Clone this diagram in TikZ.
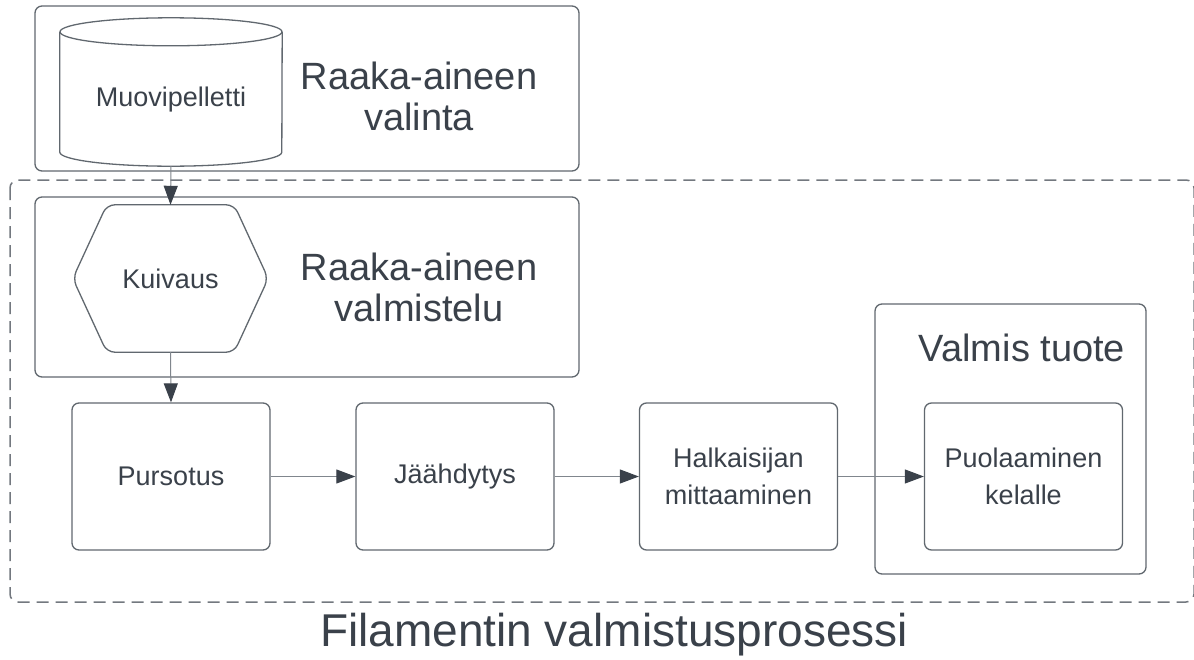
\documentclass[tikz,border=0pt]{standalone}
\usepackage{fontspec}
\setmainfont{Liberation Sans}
\usetikzlibrary{arrows.meta}
\definecolor{ink}{HTML}{3A414A}
\definecolor{edge}{HTML}{61686F}
\definecolor{wire}{HTML}{80868D}
\definecolor{dash}{HTML}{73787F}

\begin{document}
\begin{tikzpicture}[x=1pt,y=-1pt,
  group/.style={draw=edge, line width=1.3pt, rounded corners=7pt, inner sep=0pt},
  stepbox/.style={draw=edge, line width=1.3pt, rounded corners=7pt,
    minimum width=198pt, minimum height=147pt, inner sep=0pt,
    align=center, text=ink, font=\fontsize{27}{37}\selectfont},
  plain/.style={inner sep=0pt, align=center, text=ink},
  heading/.style={plain, font=\fontsize{38}{41}\selectfont},
  shapeline/.style={draw=edge, line width=1.3pt},
  flow/.style={draw=wire, line width=1pt,
    -{Triangle[length=19pt, width=14pt, color=ink]}},
  boundary/.style={draw=dash, line width=1.5pt, dash pattern=on 12pt off 7pt,
    rounded corners=8pt}
]
\useasboundingbox (0,0) rectangle (1194,659);
\fill[white] (0,0) rectangle (1194,659);

% overall process boundary
\draw[boundary] (10,180) rectangle (1194,602);
\node[plain, font=\fontsize{46}{52}\selectfont] (title) at (614,635) {Filamentin valmistusprosessi};

% raw material selection
\node[group, minimum width=544pt, minimum height=165pt] (select) at (307,88.5) {};
\node[heading] (selecttxt) at (419,96) {Raaka-aineen\\valinta};
\node[inner sep=0pt, minimum width=222pt, minimum height=148pt] (pellet) at (171,92) {};
\draw[shapeline, fill=white] ([yshift=-14pt]pellet.north west) -- ([yshift=14pt]pellet.south west)
  arc[start angle=180, end angle=360, x radius=111pt, y radius=14pt]
  -- ([yshift=-14pt]pellet.north east);
\draw[shapeline] ([yshift=-14pt]pellet.north) ellipse [x radius=111pt, y radius=14pt];
\node[plain, font=\fontsize{27}{37}\selectfont] (pellettxt) at (171,100) {Muovipelletti};

% raw material preparation
\node[group, minimum width=544pt, minimum height=180pt] (prep) at (307,287) {};
\node[heading] (preptxt) at (419,287) {Raaka-aineen\\valmistelu};
\node[inner sep=0pt, minimum width=195pt, minimum height=147pt, text=ink,
  font=\fontsize{27}{37}\selectfont] (kuiv) at (170.5,278.5) {Kuivaus};
\draw[shapeline, rounded corners=8pt] (kuiv.west) -- ([xshift=34pt]kuiv.north west)
  -- ([xshift=-34pt]kuiv.north east) -- (kuiv.east)
  -- ([xshift=-34pt]kuiv.south east) -- ([xshift=34pt]kuiv.south west) -- cycle;

% finished product
\node[group, minimum width=271pt, minimum height=270pt] (final) at (1010.5,439) {};
\node[heading] (finaltxt) at (1022,348) {Valmis tuote};

% process steps
\node[stepbox] (purs) at (171,476.5) {Pursotus};
\node[stepbox] (jaah) at (455,476.5) {Jäähdytys};
\node[stepbox] (halk) at (738.5,476.5) {Halkaisijan\\mittaaminen};
\node[stepbox] (puol) at (1023.5,476.5) {Puolaaminen\\kelalle};

% connectors
\draw[flow] (pellet.south) -- (kuiv.north);
\draw[flow] (kuiv.south) -- (purs.north);
\draw[flow] (purs.east) -- (jaah.west);
\draw[flow] (jaah.east) -- (halk.west);
\draw[flow] (halk.east) -- (puol.west);
\end{tikzpicture}
\end{document}
